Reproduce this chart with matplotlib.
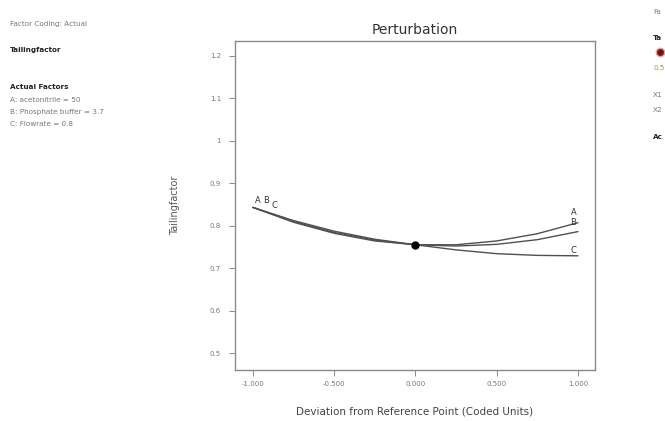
import matplotlib
matplotlib.use("Agg")
import matplotlib.pyplot as plt

# ---- data ----
x_dev = [-1.0, -0.75, -0.5, -0.25, 0.0, 0.25, 0.5, 0.75, 1.0]
curve_A = [0.843, 0.808, 0.782, 0.764, 0.755, 0.755, 0.764, 0.781, 0.807]
curve_B = [0.843, 0.810, 0.784, 0.766, 0.755, 0.752, 0.756, 0.767, 0.786]
curve_C = [0.843, 0.812, 0.787, 0.768, 0.755, 0.743, 0.734, 0.730, 0.729]
curve_names = ["A", "B", "C"]
ref_point = (0.0, 0.755)

x_ticks = [-1.0, -0.5, 0.0, 0.5, 1.0]
x_ticklabels = ["-1.000", "-0.500", "0.000", "0.500", "1.000"]
y_ticks = [0.5, 0.6, 0.7, 0.8, 0.9, 1.0, 1.1, 1.2]
y_ticklabels = ["0.5", "0.6", "0.7", "0.8", "0.9", "1", "1.1", "1.2"]

left_panel = [
    ("Factor Coding: Actual", False),
    ("Tailingfactor", True),
    ("Actual Factors", True),
    ("A: acetonitrile = 50", False),
    ("B: Phosphate buffer = 3.7", False),
    ("C: Flowrate = 0.8", False),
]
# visible (cut-off) part of the neighbouring panel at the right edge
right_panel = [
    ("Fa", False, 12, "#777777"),
    ("Ta", True, 38, "#222222"),
    ("0.5", False, 68, "#99996a"),
    ("X1", False, 95, "#777777"),
    ("X2", False, 110, "#777777"),
    ("Ac", True, 137, "#222222"),
]

W, H = 665, 421
fig = plt.figure(figsize=(W / 100, H / 100), dpi=100)
ax = fig.add_axes([235 / W, 1 - 370 / H, (595 - 235) / W, (370 - 41) / H])

line_col = "#505050"
for ys in (curve_A, curve_B, curve_C):
    ax.plot(x_dev, ys, color=line_col, lw=1.0, solid_capstyle="round")
ax.plot([ref_point[0]], [ref_point[1]], "o", color="black", ms=5, zorder=5)

# curve labels at both ends
lab_kw = dict(fontsize=6, color="#333333", ha="center", va="center")
left_pos = [(-0.972, 0.859), (-0.916, 0.859), (-0.867, 0.847)]
right_pos = [(0.972, 0.831), (0.972, 0.807), (0.972, 0.741)]
for name, (lx, ly) in zip(curve_names, left_pos):
    ax.text(lx, ly, name, **lab_kw)
for name, (rx, ry) in zip(curve_names, right_pos):
    ax.text(rx, ry, name, **lab_kw)

ax.set_xlim(-1.11, 1.105)
ax.set_ylim(0.46, 1.235)
ax.set_xticks(x_ticks)
ax.set_xticklabels(x_ticklabels)
ax.set_yticks(y_ticks)
ax.set_yticklabels(y_ticklabels)
ax.tick_params(axis="both", labelsize=5, colors="#777777", length=4, width=0.6,
               direction="out")
ax.tick_params(axis="y", pad=6)
ax.tick_params(axis="x", pad=4)
for s in ax.spines.values():
    s.set_color("#8a8a8a")
    s.set_linewidth(1.0)

ax.set_title("Perturbation", fontsize=10, color="#333333", pad=5)
ax.set_xlabel("Deviation from Reference Point (Coded Units)", fontsize=7.5,
              color="#444444", labelpad=14)
fig.text(175 / W, 1 - 205 / H, "Tailingfactor", rotation=90, fontsize=7,
         color="#555555", ha="center", va="center")

# left info panel
ys_px = [24, 50, 87, 100, 112, 124]
for (txt, bold), ypx in zip(left_panel, ys_px):
    fig.text(10 / W, 1 - ypx / H, txt, fontsize=5.2,
             color="#222222" if bold else "#777777",
             fontweight="bold" if bold else "normal", va="center")

# right (cut-off) info panel
for txt, bold, ypx, col in right_panel:
    fig.text(653 / W, 1 - ypx / H, txt, fontsize=5.2, color=col,
             fontweight="bold" if bold else "normal", va="center")
fig.add_artist(plt.Line2D([660 / W], [1 - 52 / H], marker="o", ms=6,
                          color="#6b1a1a", markeredgecolor="#e8a0a0",
                          transform=fig.transFigure))

fig.savefig("out.png", dpi=100)
